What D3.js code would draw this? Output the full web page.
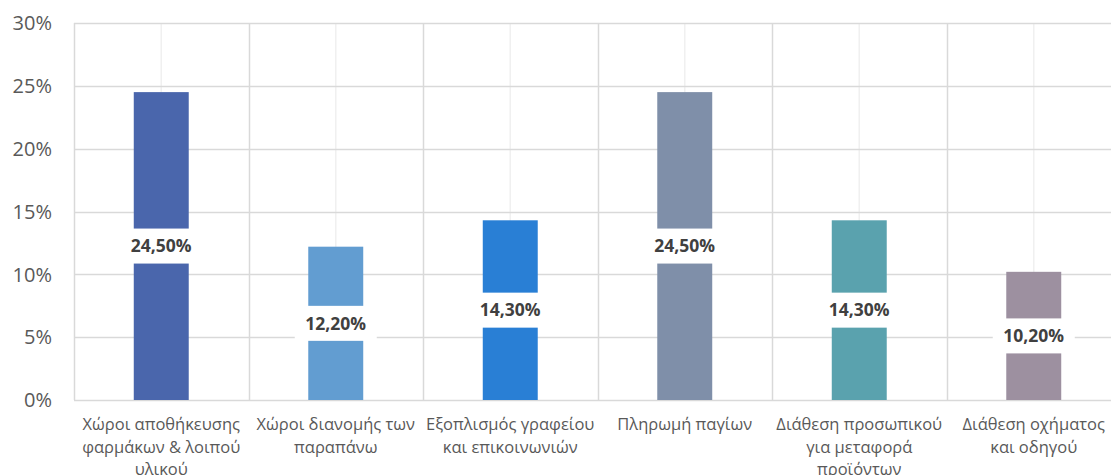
<!DOCTYPE html>
<html>
<head>
<meta charset="utf-8">
<script src="https://cdn.jsdelivr.net/npm/d3@7"></script>
<style>
  body { margin: 0; background: #fff; }
  svg { display: block; font-family: "Open Sans", "Noto Sans", sans-serif; }
</style>
</head>
<body>
<div id="main"></div>
<script>
const categories = [
  "Χώροι αποθήκευσης|φαρμάκων & λοιπού|υλικού",
  "Χώροι διανομής των|παραπάνω",
  "Εξοπλισμός γραφείου|και επικοινωνιών",
  "Πληρωμή παγίων",
  "Διάθεση προσωπικού|για μεταφορά|προϊόντων",
  "Διάθεση οχήματος|και οδηγού"
];
const values = [24.5, 12.2, 14.3, 24.5, 14.3, 10.2];
const colors = ["#4a66ac", "#629dd1", "#297fd5", "#7f8fa9", "#5aa2ae", "#9d90a0"];
const yTicks = [0, 5, 10, 15, 20, 25, 30];

const width = 1111, height = 475;
const margin = { top: 23, right: -10, bottom: 75, left: 74 };

const svg = d3.select("#main").append("svg")
  .attr("width", width)
  .attr("height", height);

const x = d3.scaleBand()
  .domain(d3.range(categories.length))
  .range([margin.left, width - margin.right])
  .paddingInner(0)
  .paddingOuter(0);

const y = d3.scaleLinear()
  .domain([0, 30])
  .range([height - margin.bottom, margin.top]);

// light center lines
svg.append("g")
  .selectAll("line")
  .data(d3.range(categories.length))
  .join("line")
  .attr("x1", d => x(d) + x.bandwidth() / 2)
  .attr("x2", d => x(d) + x.bandwidth() / 2)
  .attr("y1", y(30))
  .attr("y2", y(0))
  .attr("stroke", "#f0f0f0")
  .attr("stroke-width", 1.5);

// horizontal gridlines
svg.append("g")
  .selectAll("line")
  .data(yTicks)
  .join("line")
  .attr("x1", margin.left)
  .attr("x2", width)
  .attr("y1", d => Math.round(y(d)) + 0.5)
  .attr("y2", d => Math.round(y(d)) + 0.5)
  .attr("stroke", "#d9d9d9")
  .attr("stroke-width", 1.5);

// category boundary lines
svg.append("g")
  .selectAll("line")
  .data(d3.range(categories.length + 1))
  .join("line")
  .attr("x1", d => Math.round(margin.left + d * x.bandwidth()) + 0.5)
  .attr("x2", d => Math.round(margin.left + d * x.bandwidth()) + 0.5)
  .attr("y1", y(30))
  .attr("y2", y(0))
  .attr("stroke", "#d9d9d9")
  .attr("stroke-width", 1.5);

// y axis labels
svg.append("g")
  .selectAll("text")
  .data(yTicks)
  .join("text")
  .attr("x", 52)
  .attr("y", d => y(d))
  .attr("dy", "0.36em")
  .attr("text-anchor", "end")
  .attr("fill", "#595959")
  .attr("font-size", 20)
  .text(d => d + "%");

const barW = x.bandwidth() * 0.315;

svg.append("g")
  .selectAll("rect")
  .data(values)
  .join("rect")
  .attr("x", (d, i) => x(i) + x.bandwidth() / 2 - barW / 2)
  .attr("width", barW)
  .attr("y", d => y(d))
  .attr("height", d => y(0) - y(d))
  .attr("fill", (d, i) => colors[i]);

// data labels with white boxes
const labels = svg.append("g")
  .selectAll("g")
  .data(values)
  .join("g")
  .attr("transform", (d, i) => `translate(${x(i) + x.bandwidth() / 2},${(y(d) + y(0)) / 2})`);

labels.append("rect")
  .attr("x", -41)
  .attr("y", -17.5)
  .attr("width", 82)
  .attr("height", 35)
  .attr("fill", "#fff");

labels.append("text")
  .attr("text-anchor", "middle")
  .attr("dy", "0.36em")
  .attr("font-size", 17.5)
  .attr("font-weight", "bold")
  .attr("fill", "#404040")
  .text(d => d.toFixed(2).replace(".", ",") + "%");

// category labels
const cat = svg.append("g")
  .selectAll("text")
  .data(categories)
  .join("text")
  .attr("x", (d, i) => x(i) + x.bandwidth() / 2)
  .attr("y", 430)
  .attr("text-anchor", "middle")
  .attr("fill", "#595959")
  .attr("font-size", 16.5);

cat.selectAll("tspan")
  .data(d => d.split("|"))
  .join("tspan")
  .attr("x", function () { return this.parentNode.getAttribute("x"); })
  .attr("dy", (d, i) => i === 0 ? 0 : 22.5)
  .text(d => d);
</script>
</body>
</html>
